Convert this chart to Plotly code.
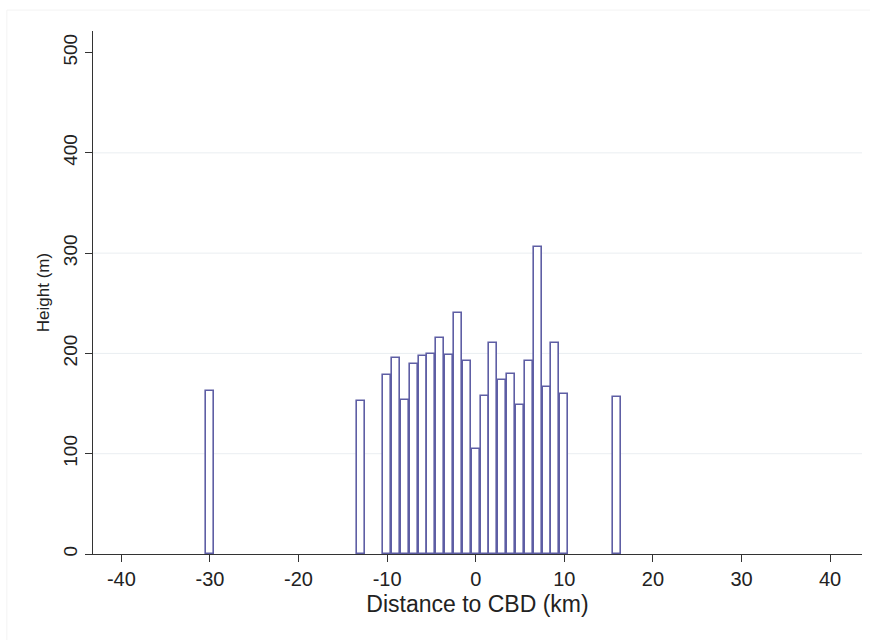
import plotly.graph_objects as go

distance_km = [-30, -13, -10, -9, -8, -7, -6, -5, -4, -3, -2, -1, 0, 1, 2, 3, 4, 5, 6, 7, 8, 9, 10, 16]
height_m = [163, 153, 178, 195, 154, 189, 197, 199, 215, 198, 240, 192, 105, 158, 210, 174, 179, 149, 192, 306, 167, 210, 160, 157]

x_ticks = [-40, -30, -20, -10, 0, 10, 20, 30, 40]
y_ticks = [0, 100, 200, 300, 400, 500]
grid_y = [100, 200, 300, 400]

fig = go.Figure()
fig.add_trace(go.Bar(
    x=distance_km, y=height_m, width=0.9,
    marker=dict(color="white", line=dict(color="#5e5ea4", width=1.6)),
    showlegend=False,
))

for g in grid_y:
    fig.add_shape(type="line", xref="paper", yref="y", x0=0, x1=1, y0=g, y1=g,
                  line=dict(color="#eaeef1", width=1), layer="below")

fig.add_shape(type="rect", xref="paper", yref="paper", x0=-0.112, x1=1.02, y0=-0.17, y1=1.04,
              line=dict(color="#f3f3f3", width=1), layer="below")

font_family = "Liberation Sans, Arial, sans-serif"
fig.update_layout(
    width=870, height=640,
    margin=dict(l=93, r=8, t=31, b=86),
    paper_bgcolor="white", plot_bgcolor="white",
    font=dict(family=font_family, color="#222222"),
    bargap=0,
    xaxis=dict(
        range=[-43.2, 43.6], tickvals=x_ticks, ticktext=[str(v) for v in x_ticks],
        showgrid=False, zeroline=False, showline=True, linecolor="#333333", linewidth=1,
        ticks="outside", ticklen=7, tickcolor="#333333",
        tickfont=dict(size=20, color="#222222"),
        title=dict(text="Distance to CBD (km)", font=dict(size=23, color="#222222"), standoff=6),
    ),
    yaxis=dict(
        range=[0, 521.5], tickvals=y_ticks, ticktext=[str(v) for v in y_ticks],
        showgrid=False, zeroline=False, showline=True, linecolor="#333333", linewidth=1,
        ticks="outside", ticklen=7, tickcolor="#333333", tickangle=-90,
        tickfont=dict(size=19, color="#222222"),
        title=dict(text="Height (m)", font=dict(size=17, color="#222222"), standoff=6),
    ),
)

fig.write_html("out.html")
